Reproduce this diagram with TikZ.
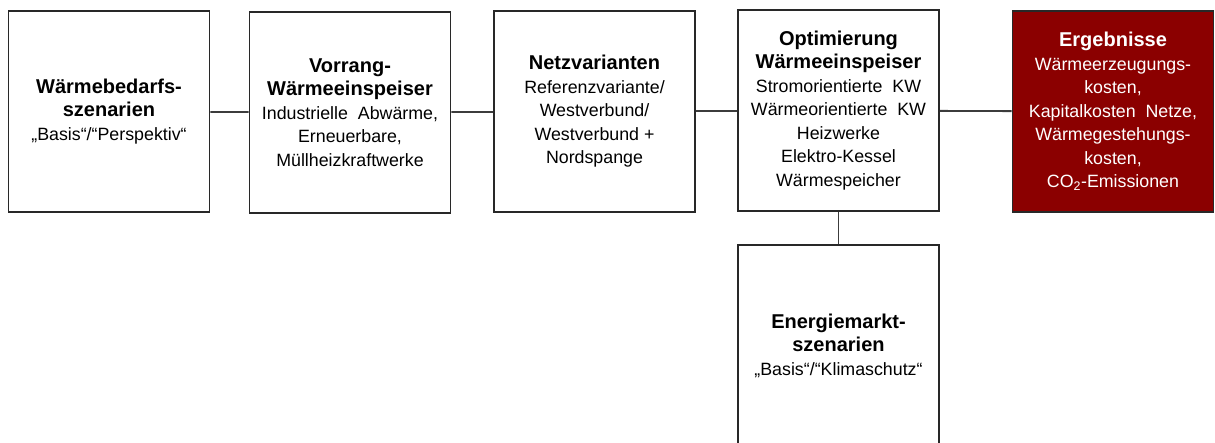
\documentclass[tikz,border=0pt]{standalone}
\usepackage{fontspec}
\setmainfont{Liberation Sans}
\definecolor{frame}{RGB}{40,40,40}
\definecolor{wire}{RGB}{60,60,60}
\definecolor{resultred}{RGB}{139,0,0}
\newcommand{\ttl}[1]{{\fontsize{20}{23.5}\bfseries\selectfont #1}}
\begin{document}
\begin{tikzpicture}[x=1pt,y=-1pt,
  stagebox/.style={draw=frame,line width=1.8pt,fill=white,minimum width=201pt,minimum height=201pt,
    inner sep=1pt,align=center,text=black,font=\fontsize{17.8}{23.5}\selectfont},
  resultbox/.style={stagebox,fill=resultred,text=white},
  link/.style={draw=wire,line width=1.8pt}]
\useasboundingbox (0,0) rectangle (1215,442);
\clip (0,0) rectangle (1215,442);

\node[stagebox] (b1) at (109,111.5) {\ttl{Wärmebedarfs-}\\\ttl{szenarien}\\„Basis“/“Perspektiv“};
\node[stagebox] (b2) at (350,112.5) {\ttl{Vorrang-}\\\ttl{Wärmeeinspeiser}\\Industrielle\ \ Abwärme,\\Erneuerbare,\\Müllheizkraftwerke};
\node[stagebox] (b3) at (594.5,111.5) {\ttl{Netzvarianten}\\Referenzvariante/\\Westverbund/\\Westverbund +\\Nordspange};
\node[stagebox] (b4) at (838.5,110.5) {\ttl{Optimierung}\\\ttl{Wärmeeinspeiser}\\Stromorientierte\ \ KW\\Wärmeorientierte\ \ KW\\Heizwerke\\Elektro-Kessel\\Wärmespeicher};
\node[resultbox] (b5) at (1113,111.5) {\ttl{Ergebnisse}\\Wärmeerzeugungs-\\kosten,\\Kapitalkosten\ \ Netze,\\Wärmegestehungs-\\kosten,\\CO\textsubscript{2}-Emissionen};
\node[stagebox] (b6) at (838.5,345.5) {\ttl{Energiemarkt-}\\\ttl{szenarien}\\„Basis“/“Klimaschutz“};

\draw[link] (b1) -- (b2);
\draw[link] (b2) -- (b3);
\draw[link] (b3) -- (b4);
\draw[link] (b4) -- (b5);
\draw[link] (b4) -- (b6);
\end{tikzpicture}
\end{document}
